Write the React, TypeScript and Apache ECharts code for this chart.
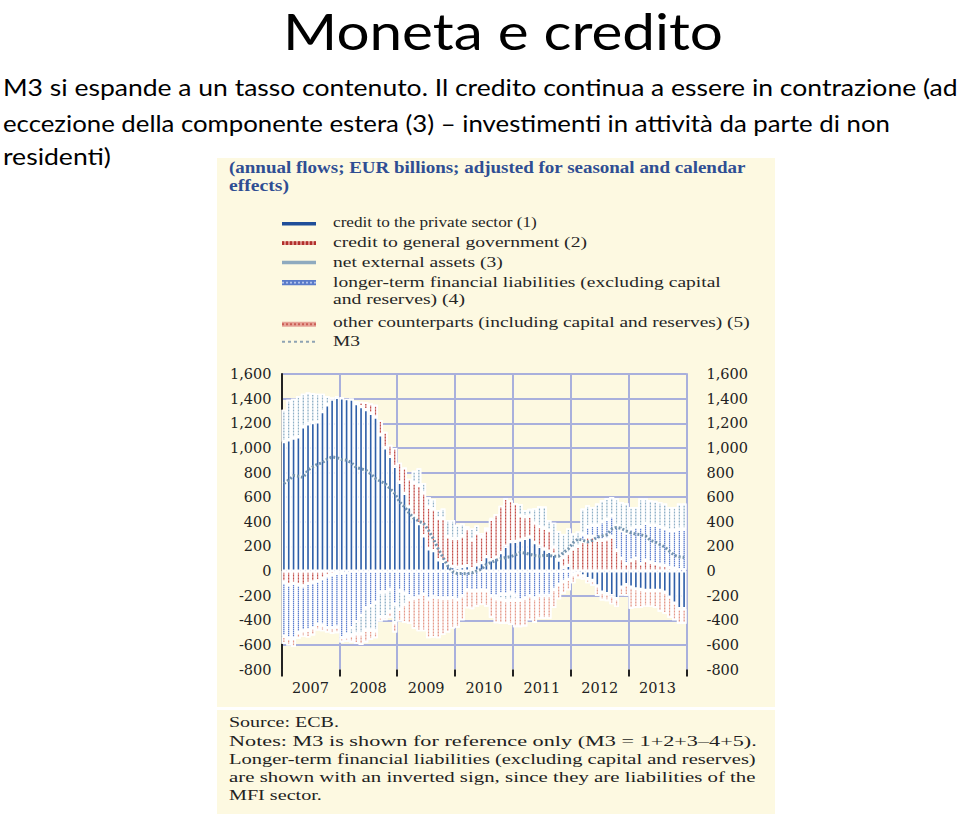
import React, { useEffect, useRef } from "react";
import * as echarts from "echarts";

// ---------- data ----------
const years = ["2007", "2008", "2009", "2010", "2011", "2012", "2013"];
const monthCodes = ["01", "02", "03", "04", "05", "06", "07", "08", "09", "10", "11", "12"];
const yTicks = [-800, -600, -400, -200, 0, 200, 400, 600, 800, 1000, 1200, 1400, 1600];

// (1) credit to the private sector, annual flows, EUR billions (monthly 2007-2013)
const privateCredit = [
  1050, 1065, 1080, 1090, 1170, 1195, 1205, 1210, 1295, 1350, 1395, 1410,
  1405, 1400, 1395, 1360, 1335, 1310, 1280, 1250, 1105, 1000, 930, 850,
  720, 630, 520, 445, 385, 285, 180, 165, 90, 78, 60, 35,
  30, 35, 43, 20, 50, 68, 116, 90, 110, 150, 200, 238,
  240, 250, 265, 275, 230, 200, 178, 160, 135, 89, 30, 45,
  0, -10, -40, -62, -76, -120, -171, -184, -200, -225, -130, -110,
  -130, -144, -150, -157, -157, -157, -157, -171, -211, -260, -306, -306,
];
// (2) credit to general government
const govCredit = [
  -90, -110, -100, -110, -120, -100, -90, -80, -60, -40, -30, -20,
  -20, -10, 0, 20, 40, 60, 80, 100, 120, 130, 95, 150,
  160, 210, 230, 270, 310, 350, 338, 339, 339, 350, 220, 230,
  235, 250, 300, 232, 260, 211, 217, 330, 352, 380, 390, 335,
  312, 200, 176, 170, 160, 163, 170, 171, 60, 20, 81, 100,
  180, 200, 240, 280, 280, 250, 250, 260, 277, 168, 100, 60,
  87, 100, 60, 87, 70, 60, 50, 46, 30, 20, 10, 10,
];
// (3) net external assets
const netExternal = [
  260, 325, 320, 330, 270, 255, 240, 230, 145, 70, 15, 10,
  5, -20, -60, -100, -150, -180, -200, -230, -200, -200, -180, -150,
  -150, -90, -30, 100, 140, 80, 82, 81, 67, 80, 135, 150,
  110, 100, 20, 94, 60, 30, 20, 10, -20, -40, -50, -60,
  -40, 95, 54, 60, 120, 162, 176, 81, 197, 215, 190, 200,
  124, 120, 207, 174, 150, 178, 175, 170, 155, 220, 230, 240,
  173, 160, 228, 201, 205, 200, 201, 202, 190, 190, 208, 208,
];
// (4) longer-term financial liabilities (inverted sign)
const longerTerm = [
  -440, -435, -448, -390, -367, -380, -373, -353, -380, -420, -430, -435,
  -520, -505, -460, -410, -360, -300, -280, -257, -171, -170, -150, -270,
  -161, -180, -200, -220, -210, -190, -227, -210, -217, -220, -220, -216,
  -230, -200, -153, -160, -160, -156, -160, -200, -205, -188, -190, -178,
  -196, -236, -220, -201, -220, -198, -198, -198, -150, -110, -84, -67,
  -30, 0, 60, 80, 90, 120, 150, 160, 170, 200, 230, 250,
  260, 260, 300, 300, 300, 310, 310, 300, 300, 310, 330, 330,
];
// (5) other counterparts (including capital and reserves)
const otherCounterparts = [
  -60, -60, -70, -50, -50, -60, -60, -50, -50, -40, -50, -50,
  -40, -40, -60, -80, -90, -100, -80, -60, -40, -30, -50, -80,
  -100, -150, -200, -250, -280, -300, -320, -330, -330, -300, -280, -250,
  -230, -200, -150, -150, -130, -120, -130, -180, -200, -200, -190, -200,
  -220, -220, -230, -200, -200, -190, -190, -190, -150, -120, -100, -90,
  -70, -50, -30, -38, -44, -80, -68, -61, -70, -68, -70, -90,
  -176, -156, -150, -136, -136, -143, -173, -176, -169, -141, -122, -122,
];
// M3
const m3 = [
  710, 740, 775, 770, 760, 820, 846, 868, 880, 910, 927, 920,
  905, 900, 880, 840, 830, 819, 790, 751, 730, 710, 670, 629,
  560, 521, 470, 426, 405, 385, 330, 260, 180, 110, 40, -5,
  -22, -20, -22, -15, 0, 15, 55, 70, 87, 100, 110, 116,
  130, 150, 145, 135, 125, 120, 127, 125, 120, 120, 150, 180,
  230, 260, 250, 236, 250, 275, 285, 295, 340, 355, 345, 325,
  310, 300, 295, 285, 250, 236, 215, 195, 160, 127, 115, 110,
];

const legendNames = [
  "credit to the private sector (1)",
  "credit to general government (2)",
  "net external assets (3)",
  "longer-term financial liabilities (excluding capital",
  "and reserves) (4)",
  "other counterparts (including capital and reserves) (5)",
  "M3",
];
const headerLines = [
  "(annual flows; EUR billions; adjusted for seasonal and calendar",
  "effects)",
];
const noteLines = [
  "Source: ECB.",
  "Notes: M3 is shown for reference only (M3 = 1+2+3\u20134+5).",
  "Longer-term financial liabilities (excluding capital and reserves)",
  "are shown with an inverted sign, since they are liabilities of the",
  "MFI sector.",
];
const slideTitle = "Moneta e credito";
const slideText = [
  "M3 si espande a un tasso contenuto. Il credito continua a essere in contrazione (ad",
  "eccezione della componente estera (3) \u2013 investimenti in attivit\u00e0 da parte di non",
  "residenti)",
];

const months = years.flatMap((y) => monthCodes.map((m) => `${y}-${m}`));

// ---------- styling ----------
const BEIGE = "#fdf9e1";
const LAV = "#a9b0dc";
const C1 = "#2f5fa8";
const C2 = "#c4504b";
const C3 = "#8fb0c6";
const C4 = "#5d7fcf";
const C5 = "#e59a8b";
const CM3 = "#7494ae";

let measureCtx: CanvasRenderingContext2D | null = null;
function measure(text: string, font: string): number {
  if (!measureCtx) measureCtx = document.createElement("canvas").getContext("2d");
  if (!measureCtx) return 1;
  measureCtx.font = font;
  return measureCtx.measureText(text).width || 1;
}

function textEl(
  text: string,
  x: number,
  y: number,
  font: string,
  fill: string,
  width: number | null,
  align = "left",
  lineHeight?: number
) {
  const sx = width ? width / measure(text, font) : 1;
  const style: any = {
    text,
    font,
    fill,
    textAlign: align,
    align,
    textVerticalAlign: "middle",
    verticalAlign: "middle",
  };
  if (lineHeight) style.lineHeight = lineHeight;
  return { type: "text", x, y, scaleX: sx, z: 10, style };
}

function decal(alpha: number, dy: number[]) {
  return {
    symbol: "rect",
    symbolSize: 1,
    dashArrayX: [1, 0],
    dashArrayY: dy,
    color: `rgba(255,255,255,${alpha})`,
  };
}

function buildOption() {
  const titleFont = "51px Lato";
  const bodyFont = "24px Lato";
  const headFont = "bold 16px 'Liberation Serif'";
  const legFont = "15px 'Liberation Serif'";
  const noteFont = "15.5px 'Liberation Serif'";

  const graphic: any[] = [
    { type: "rect", z: 0, shape: { x: 217, y: 158, width: 558, height: 549 }, style: { fill: BEIGE } },
    { type: "rect", z: 0, shape: { x: 217, y: 710, width: 558, height: 104 }, style: { fill: BEIGE } },
    textEl(slideTitle, 503, 30.5, titleFont, "#000", 440, "center", 44),
    textEl(slideText[0], 3, 87, bodyFont, "#000", 955),
    textEl(slideText[1], 3, 122.5, bodyFont, "#000", 887),
    textEl(slideText[2], 3, 155.5, bodyFont, "#000", 108),
    textEl(headerLines[0], 229, 168, headFont, "#2f4e93", 517),
    textEl(headerLines[1], 229, 186, headFont, "#2f4e93", 60),
  ];

  // legend keys
  const lx = 282;
  const lw = 34;
  graphic.push(
    { type: "rect", z: 10, shape: { x: lx, y: 222, width: lw, height: 3.6 }, style: { fill: "#1f4e99" } },
    { type: "rect", z: 10, shape: { x: lx, y: 241.3, width: lw, height: 3.6 }, style: { fill: "#d98a84" } },
    { type: "line", z: 11, shape: { x1: lx, y1: 243.1, x2: lx + lw, y2: 243.1 }, style: { stroke: "#b2302b", lineWidth: 3.6, lineDash: [2, 2] } },
    { type: "rect", z: 10, shape: { x: lx, y: 260.7, width: lw, height: 3.6 }, style: { fill: "#8eaabf" } },
    { type: "rect", z: 10, shape: { x: lx, y: 280, width: lw, height: 5.3 }, style: { fill: "#5a7bc9" } },
    { type: "line", z: 11, shape: { x1: lx, y1: 282.6, x2: lx + lw, y2: 282.6 }, style: { stroke: "#b3c4ec", lineWidth: 1.6, lineDash: [2, 2] } },
    { type: "rect", z: 10, shape: { x: lx, y: 321.7, width: lw, height: 5 }, style: { fill: "#e6a397" } },
    { type: "line", z: 11, shape: { x1: lx, y1: 324.2, x2: lx + lw, y2: 324.2 }, style: { stroke: "#cc5e55", lineWidth: 2, lineDash: [2, 2] } },
    { type: "line", z: 11, shape: { x1: lx, y1: 341.7, x2: lx + 36, y2: 341.7 }, style: { stroke: "#8ea3b3", lineWidth: 2, lineDash: [3, 3] } }
  );
  const legY = [222, 242, 261.5, 282, 299, 322.5, 341];
  const legW = [204, 254, 170, 388, 132, 417, 27];
  legendNames.forEach((n, i) => graphic.push(textEl(n, 333, legY[i], legFont, "#262626", legW[i])));

  const noteY = [722, 741, 759, 777, 795];
  const noteW = [110, 528, 527, 527, 93];
  noteLines.forEach((n, i) => graphic.push(textEl(n, 229, noteY[i], noteFont, "#222", noteW[i])));

  const axisFont = { color: "#222", fontFamily: "DejaVu Serif", fontSize: 14.5 };
  const fmt = (v: number) => v.toLocaleString("en-US");

  const barBase = {
    type: "bar",
    stack: "total",
    xAxisIndex: 0,
    yAxisIndex: 0,
    barCategoryGap: "0%",
    emphasis: { disabled: true },
  };
  const border = { borderColor: "#ffffff", borderWidth: 1.6 };

  return {
    animation: false,
    backgroundColor: "#ffffff",
    textStyle: { fontFamily: "DejaVu Serif" },
    graphic,
    grid: { left: 281.5, top: 374, width: 405, height: 295.5, containLabel: false },
    xAxis: [
      { type: "category", data: months, show: false, boundaryGap: true, z: 1 },
      {
        type: "category",
        data: years,
        position: "bottom",
        boundaryGap: true,
        z: 1,
        axisLine: { show: false, onZero: false },
        axisTick: { show: true, length: 7, interval: 0, lineStyle: { color: "#222", width: 2 } },
        axisLabel: { ...axisFont, margin: 11, interval: 0 },
        splitLine: { show: true, interval: 0, lineStyle: { color: LAV, width: 2 } },
      },
    ],
    yAxis: [
      {
        type: "value",
        min: yTicks[0],
        max: yTicks[yTicks.length - 1],
        interval: 200,
        position: "left",
        z: 1,
        axisLine: { show: true, onZero: false, lineStyle: { color: "#222", width: 2 } },
        axisTick: { show: false },
        axisLabel: { ...axisFont, margin: 10, formatter: fmt },
        splitLine: { show: true, showMinLine: false, lineStyle: { color: LAV, width: 2 } },
      },
      {
        type: "value",
        min: yTicks[0],
        max: yTicks[yTicks.length - 1],
        interval: 200,
        position: "right",
        z: 1,
        axisLine: { show: true, onZero: false, lineStyle: { color: LAV, width: 2 } },
        axisTick: { show: false },
        axisLabel: { ...axisFont, margin: 20, align: "left", formatter: fmt },
        splitLine: { show: false },
      },
    ],
    series: [
      { ...barBase, name: legendNames[0], data: privateCredit, itemStyle: { color: C1, ...border } },
      { ...barBase, name: legendNames[1], data: govCredit, itemStyle: { color: C2, ...border, decal: decal(0.35, [2, 1]) } },
      { ...barBase, name: "longer-term financial liabilities (excluding capital and reserves) (4)", data: longerTerm, itemStyle: { color: C4, ...border, decal: decal(0.55, [1, 1]) } },
      { ...barBase, name: legendNames[2], data: netExternal, itemStyle: { color: C3, ...border, decal: decal(0.55, [2, 1]) } },
      { ...barBase, name: legendNames[5], data: otherCounterparts, itemStyle: { color: C5, ...border, decal: decal(0.45, [2, 1]) } },
      {
        type: "line",
        name: "M3",
        data: m3,
        xAxisIndex: 0,
        yAxisIndex: 0,
        symbol: "none",
        z: 5,
        emphasis: { disabled: true },
        lineStyle: { color: CM3, width: 3, type: [2, 2] },
      },
    ],
  };
}

export default function App() {
  const ref = useRef<HTMLDivElement>(null);
  useEffect(() => {
    if (!ref.current) return;
    const chart = echarts.init(ref.current, null, { renderer: "svg" });
    chart.setOption(buildOption() as any);
    return () => chart.dispose();
  }, []);
  return (
    <div
      ref={ref}
      style={{ position: "absolute", left: 0, top: 0, width: 960, height: 814, background: "#ffffff" }}
    />
  );
}
